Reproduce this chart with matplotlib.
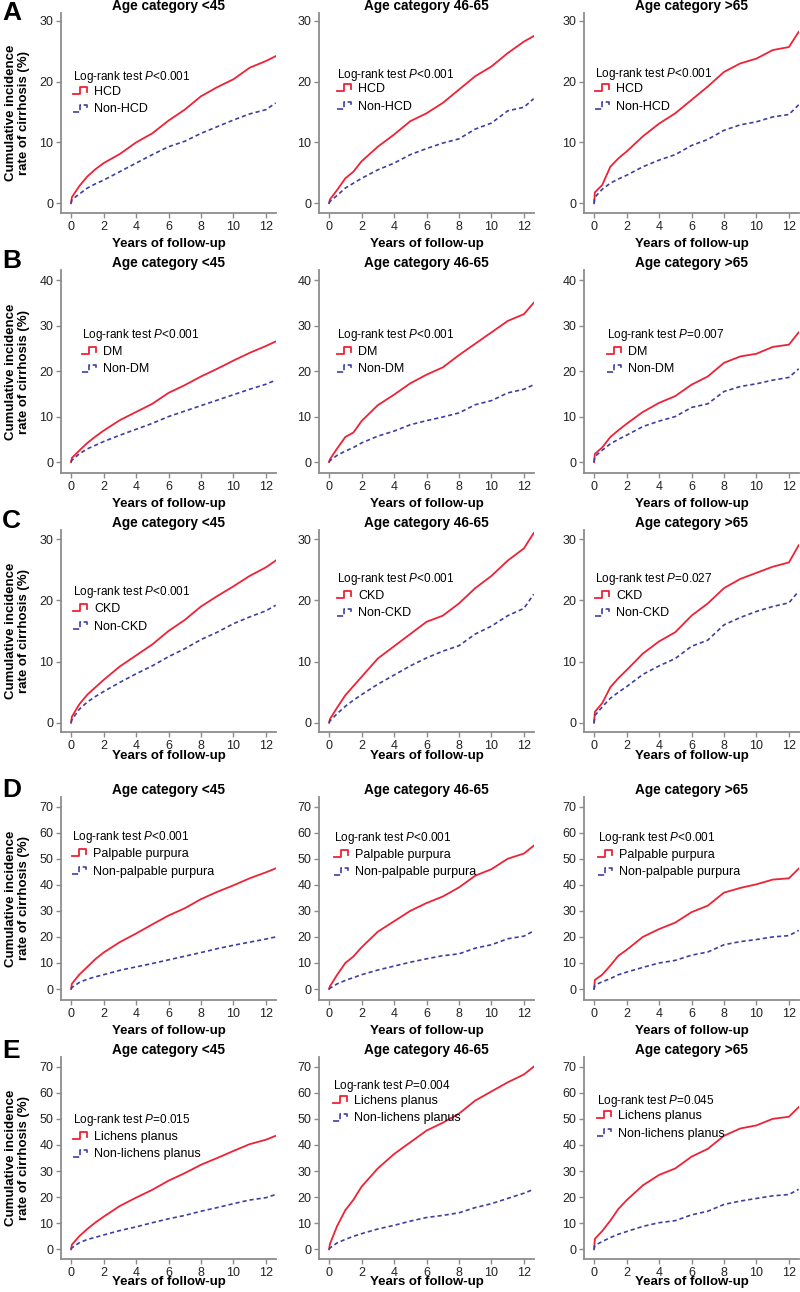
import numpy as np
import matplotlib
matplotlib.use('Agg')
import matplotlib.pyplot as plt
from matplotlib.lines import Line2D
from matplotlib.legend_handler import HandlerBase

plt.rcParams['font.family'] = ['Liberation Sans', 'DejaVu Sans']
plt.rcParams['mathtext.fontset'] = 'custom'
plt.rcParams['mathtext.rm'] = 'Liberation Sans'
plt.rcParams['mathtext.it'] = 'Liberation Sans:italic'

# ---------------- data ----------------
years = [0, 0.05, 0.5, 1, 1.5, 2, 3, 4, 5, 6, 7, 8, 9, 10, 11, 12, 12.6]
age_titles = ['Age category <45', 'Age category 46-65', 'Age category >65']
panel_letters = ['A', 'B', 'C', 'D', 'E']
exposed_labels = ['HCD', 'DM', 'CKD', 'Palpable purpura', 'Lichens planus']
control_labels = ['Non-HCD', 'Non-DM', 'Non-CKD', 'Non-palpable purpura', 'Non-lichens planus']
p_values = [['<0.001', '<0.001', '<0.001'],
            ['<0.001', '<0.001', '=0.007'],
            ['<0.001', '<0.001', '=0.027'],
            ['<0.001', '<0.001', '<0.001'],
            ['=0.015', '=0.004', '=0.045']]
y_ticks = [[0, 10, 20, 30], [0, 10, 20, 30, 40], [0, 10, 20, 30],
           list(range(0, 71, 10)), list(range(0, 71, 10))]

# Cumulative incidence (%) by age group: <45, 46-65, >65
hcd = [[0, 1.0, 2.8, 4.4, 5.6, 6.6, 8.1, 10.0, 11.5, 13.6, 15.4, 17.6, 19.1, 20.4, 22.3, 23.4, 24.2],
       [0, 0.6, 2.2, 4.1, 5.2, 6.9, 9.3, 11.3, 13.5, 14.8, 16.5, 18.7, 20.9, 22.5, 24.7, 26.6, 27.5],
       [0, 1.8, 3.0, 6.0, 7.4, 8.5, 11.0, 13.1, 14.8, 17.0, 19.2, 21.6, 23.0, 23.8, 25.2, 25.7, 28.2]]
non_hcd = [[0, 0.6, 1.5, 2.5, 3.2, 3.8, 5.2, 6.6, 8.0, 9.3, 10.2, 11.5, 12.6, 13.7, 14.7, 15.4, 16.5],
           [0, 0.3, 1.3, 2.5, 3.3, 4.1, 5.5, 6.6, 8.0, 9.0, 9.9, 10.6, 12.2, 13.2, 15.2, 15.8, 17.2],
           [0, 1.0, 2.3, 3.3, 4.0, 4.6, 6.0, 7.1, 8.0, 9.5, 10.5, 12.0, 12.9, 13.4, 14.2, 14.6, 16.2]]
dm = [[0, 0.9, 2.5, 4.2, 5.6, 6.9, 9.2, 11.0, 12.8, 15.2, 16.9, 18.8, 20.5, 22.3, 24.0, 25.5, 26.5],
      [0, 0.6, 3.0, 5.5, 6.5, 9.0, 12.5, 14.8, 17.3, 19.2, 20.8, 23.5, 26.0, 28.5, 31.0, 32.5, 35.0],
      [0, 1.8, 3.2, 5.5, 7.0, 8.4, 11.0, 13.0, 14.5, 17.0, 18.8, 21.8, 23.2, 23.8, 25.3, 25.8, 28.5]]
non_dm = [[0, 0.4, 1.8, 2.9, 3.7, 4.5, 5.9, 7.2, 8.5, 10.0, 11.2, 12.4, 13.6, 14.8, 16.0, 17.1, 18.0],
          [0, 0.3, 1.5, 2.4, 3.2, 4.2, 5.7, 6.8, 8.2, 9.1, 9.9, 10.8, 12.6, 13.5, 15.2, 16.0, 17.0],
          [0, 1.2, 2.6, 4.0, 5.0, 5.9, 7.8, 9.0, 10.0, 12.0, 12.8, 15.5, 16.6, 17.2, 18.0, 18.6, 20.5]]
ckd = [[0, 1.0, 3.0, 4.6, 5.8, 7.0, 9.2, 11.0, 12.8, 15.0, 16.8, 19.0, 20.7, 22.3, 24.0, 25.4, 26.5],
       [0, 0.6, 2.5, 4.5, 6.0, 7.5, 10.5, 12.5, 14.5, 16.5, 17.5, 19.5, 22.0, 24.0, 26.5, 28.5, 31.0],
       [0, 1.8, 3.2, 5.8, 7.3, 8.6, 11.3, 13.3, 14.8, 17.5, 19.5, 22.0, 23.5, 24.5, 25.5, 26.2, 29.0]]
non_ckd = [[0, 0.5, 2.2, 3.4, 4.3, 5.1, 6.6, 8.0, 9.3, 10.8, 12.1, 13.6, 14.8, 16.2, 17.3, 18.3, 19.2],
           [0, 0.3, 1.5, 2.7, 3.7, 4.6, 6.3, 7.8, 9.3, 10.6, 11.7, 12.6, 14.5, 15.8, 17.5, 18.7, 21.0],
           [0, 1.2, 2.6, 4.0, 5.0, 5.9, 7.9, 9.3, 10.5, 12.5, 13.5, 16.0, 17.2, 18.2, 19.0, 19.6, 21.5]]
purpura = [[0, 2.0, 5.5, 8.5, 11.5, 14.0, 18.0, 21.3, 24.8, 28.2, 31.0, 34.5, 37.3, 39.8, 42.5, 44.8, 46.3],
           [0, 1.0, 5.5, 10.0, 12.5, 16.0, 22.0, 26.0, 30.0, 33.0, 35.5, 39.0, 43.5, 46.0, 50.0, 52.0, 55.0],
           [0, 3.5, 5.5, 9.0, 12.8, 15.0, 20.0, 23.0, 25.5, 29.5, 32.0, 37.0, 38.8, 40.2, 42.0, 42.5, 46.2]]
non_purpura = [[0, 0.6, 2.5, 3.8, 4.7, 5.5, 7.2, 8.5, 9.8, 11.2, 12.6, 14.0, 15.5, 16.8, 18.0, 19.2, 20.0],
               [0, 0.3, 2.0, 3.3, 4.4, 5.5, 7.3, 8.8, 10.3, 11.6, 12.8, 13.5, 15.7, 17.0, 19.3, 20.3, 22.3],
               [0, 1.5, 2.8, 4.0, 5.5, 6.5, 8.3, 10.0, 11.0, 13.0, 14.2, 17.0, 18.2, 19.0, 20.0, 20.5, 22.5]]
lichens = [[0, 1.8, 5.0, 7.8, 10.3, 12.5, 16.6, 19.8, 22.8, 26.3, 29.2, 32.4, 35.0, 37.7, 40.3, 42.0, 43.5],
           [0, 2.0, 9.0, 15.0, 19.0, 24.0, 31.0, 36.5, 41.0, 45.5, 48.5, 52.0, 57.0, 60.5, 64.0, 67.0, 70.0],
           [0, 4.0, 7.0, 11.0, 15.5, 18.8, 24.5, 28.5, 31.0, 35.5, 38.5, 43.5, 46.3, 47.5, 50.0, 50.8, 54.5]]
non_lichens = [[0, 0.6, 2.5, 3.8, 4.6, 5.5, 7.2, 8.6, 10.2, 11.7, 13.0, 14.6, 16.0, 17.5, 18.9, 19.8, 21.0],
               [0, 0.5, 2.5, 3.8, 5.0, 6.0, 7.8, 9.2, 10.8, 12.2, 13.0, 14.0, 16.0, 17.5, 19.5, 21.5, 23.0],
               [0, 1.5, 3.0, 4.5, 5.8, 6.8, 8.8, 10.2, 11.0, 13.2, 14.6, 17.2, 18.5, 19.5, 20.5, 21.0, 23.0]]

exposed = [hcd, dm, ckd, purpura, lichens]
control = [non_hcd, non_dm, non_ckd, non_purpura, non_lichens]

# ---------------- layout (pixels) ----------------
W, H = 800, 1292
col_left = [61, 319, 584]
ax_w = 215
row_tb = [(13, 213), (270, 473), (530, 732), (797, 1000), (1057, 1259)]
row_ylim = [(-1.6, 31.3), (-2.4, 42.2), (-1.5, 31.5), (-4.2, 73.7), (-3.7, 73.7)]
row_xlabelpad = [4, 4, -1, 4, -1.6]
letter_base = [20, 268, 528, 797, 1058]
# (left x, legend-title centre y, first-entry centre y)
legend_pos = [[(73, 76, 92), (337, 74, 89), (595, 73, 89)],
              [(82, 334, 352), (337, 334, 352), (607, 334, 352)],
              [(73, 591, 609), (337, 578, 596), (595, 578, 596)],
              [(72, 836, 854), (334, 837, 855), (598, 837, 855)],
              [(73, 1119, 1137), (333, 1085, 1101), (597, 1100, 1116)]]

RED = '#EE2236'
BLUE = '#3F3F9F'
SPINE = '#8C8C8C'


class StepHandler(HandlerBase):
    def create_artists(self, legend, orig_handle, xdescent, ydescent,
                       width, height, fontsize, trans):
        xs = np.array([0.0, 0.4, 0.4, 0.85, 0.85]) * width - xdescent
        ys = np.array([0.1, 0.1, 0.9, 0.9, 0.4]) * height - ydescent
        ln = Line2D(xs, ys, color=orig_handle.get_color(),
                    linestyle=orig_handle.get_linestyle(),
                    linewidth=orig_handle.get_linewidth())
        ln.set_transform(trans)
        return [ln]


fig = plt.figure(figsize=(W / 100, H / 100), dpi=100)

for r in range(5):
    top, bot = row_tb[r]
    for c in range(3):
        left = col_left[c]
        ax = fig.add_axes([left / W, 1 - bot / H, ax_w / W, (bot - top) / H])
        l1, = ax.plot(years, exposed[r][c], color=RED, lw=1.3)
        l2, = ax.plot(years, control[r][c], color=BLUE, lw=1.2, linestyle=(0, (2.5, 1.8)))
        ax.set_xlim(-0.62, 12.62)
        ax.set_ylim(*row_ylim[r])
        ax.set_xticks(range(0, 13, 2))
        ax.set_yticks(y_ticks[r])
        for s in ['top', 'right']:
            ax.spines[s].set_visible(False)
        for s in ['left', 'bottom']:
            ax.spines[s].set_color(SPINE)
            ax.spines[s].set_linewidth(1.3)
        ax.tick_params(colors=SPINE, labelcolor='#222222', labelsize=9,
                       length=3.5, width=1, pad=2)
        ax.set_title(age_titles[c], fontsize=9.8, fontweight='bold', pad=0.8)
        ax.set_xlabel('Years of follow-up', fontsize=9.5, fontweight='bold',
                      labelpad=row_xlabelpad[r])
        if c == 0:
            ax.set_ylabel('Cumulative incidence\nrate of cirrhosis (%)', fontsize=9.5,
                          fontweight='bold', linespacing=1.1)
            ax.yaxis.set_label_coords((30 - left) / ax_w, 0.5)
        lx, ty, ey = legend_pos[r][c]
        ax.text((lx - left) / ax_w, (bot - (ty + 4)) / (bot - top),
                'Log-rank test $\\mathit{P}$' + p_values[r][c],
                transform=ax.transAxes, fontsize=8.5, ha='left', va='baseline')
        ax.legend([l1, l2], [exposed_labels[r], control_labels[r]],
                  fontsize=9, loc='upper left',
                  bbox_to_anchor=((lx - left) / ax_w, (bot - (ey - 6)) / (bot - top)),
                  frameon=False, borderpad=0, borderaxespad=0,
                  handlelength=1.3, handletextpad=0.4, labelspacing=0.44,
                  handler_map={Line2D: StepHandler()})
    fig.text(2 / W, 1 - letter_base[r] / H, panel_letters[r], fontsize=19,
             fontweight='bold', va='baseline', ha='left')

fig.savefig('out.png', dpi=100)
